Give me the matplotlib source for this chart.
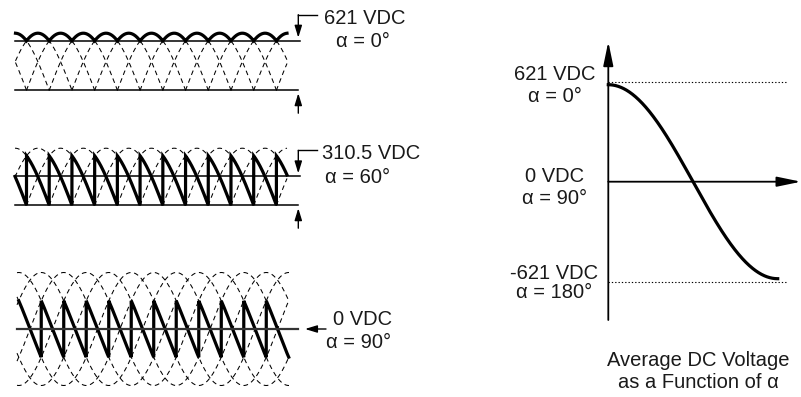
import matplotlib.pyplot as plt
import numpy as np

# values shown in the diagram
peak_vdc = 621
wave_alpha = [0, 60, 90]                      # firing angle of each waveform panel
wave_vdc_labels = ['621 VDC', '310.5 VDC', '0 VDC']
wave_alpha_labels = ['α = 0°', 'α = 60°', 'α = 90°']
curve_alpha = [0, 90, 180]                    # marked points on the right plot
curve_vdc_labels = ['621 VDC', '0 VDC', '-621 VDC']
curve_alpha_labels = ['α = 0°', 'α = 90°', 'α = 180°']
caption = ['Average DC Voltage', 'as a Function of α']

FONT = 'Liberation Sans'
FS = 14.5
TC = '#1a1a1a'

fig = plt.figure(figsize=(8.01, 3.97), dpi=100)
ax = fig.add_axes([0, 0, 1, 1])
ax.set_xlim(0, 801)
ax.set_ylim(397, 0)
ax.axis('off')

def arrow(x0, y0, x1, y1, hl=0.72, hw=0.22, lw=1.0):
    ax.annotate('', xy=(x1, y1), xytext=(x0, y0),
                arrowprops=dict(arrowstyle='-|>,head_length=%s,head_width=%s' % (hl, hw),
                                lw=lw, color='black', mutation_scale=10,
                                shrinkA=0, shrinkB=0))

# panel layout: zero line y, amplitude px, x range, px per 60 deg, x where theta = ref
panels = [
    dict(zero=90.2, amp=57, x0=15.5, x1=287, bx0=15.5, bx1=287, px60=22.72, xref=26.5, tref=180, top=40.7, clip=True),
    dict(zero=205.2, amp=57, x0=15.0, x1=287, bx0=15.0, bx1=287, px60=22.72, xref=26.5, tref=180, top=176.4, clip=True),
    dict(zero=329.0, amp=56.5, x0=17.0, x1=289, bx0=18.75, bx1=288.7, px60=22.5, xref=41.25, tref=210, top=None, clip=False),
]

for i, p in enumerate(panels):
    x = np.linspace(p['x0'], p['x1'], 6000)
    theta = p['tref'] + (x - p['xref']) * 60.0 / p['px60']
    # the six line-to-line voltages, dashed
    for k in range(6):
        v = np.sin(np.radians(theta - 60 * k))
        if p['clip']:
            v = np.where(v >= -0.005, v, np.nan)
        ax.plot(x, p['zero'] - p['amp'] * v, color='black', lw=0.75,
                dashes=(4.5, 3.5))
    # rectifier output for this firing angle
    a = wave_alpha[i]
    xb = np.linspace(p['bx0'] + 0.01, p['bx1'], 6000)
    tb = p['tref'] + (xb - p['xref']) * 60.0 / p['px60']
    ph = np.mod(tb - 60 - a, 60) + 60 + a
    out = np.sin(np.radians(ph))
    ax.plot(xb, p['zero'] - p['amp'] * out, color='black', lw=2.3,
            solid_joinstyle='miter')

    if p['top'] is not None:
        ax.plot([15, 300], [p['top'], p['top']], color='black', lw=1.1)
        ax.plot([15, 298.3], [p['zero'], p['zero']], color='black', lw=1.1)
        ely = p['top'] - 26
        ax.plot([316.5, 298.3], [ely, ely], color='black', lw=1.0)
        arrow(298.3, ely, 298.3, p['top'] - 3)
        arrow(298.3, p['zero'] + 23, 298.3, p['zero'] + 3)
        ax.text(365 if i == 0 else 371.5, p['top'] - 17, wave_vdc_labels[i], color=TC,
                ha='center', va='baseline', fontsize=FS, family=FONT)
        ax.text(363 if i == 0 else 358, p['top'] + 6.5, wave_alpha_labels[i], color=TC,
                ha='center', va='baseline', fontsize=FS, family=FONT)
    else:
        ax.plot([16.7, 297.7], [p['zero'], p['zero']], color='#333333', lw=1.6)
        arrow(326, p['zero'], 305, p['zero'])
        ax.text(363, p['zero'] - 4, wave_vdc_labels[i], color=TC,
                ha='center', va='baseline', fontsize=FS, family=FONT)
        ax.text(359, p['zero'] + 19.5, wave_alpha_labels[i], color=TC,
                ha='center', va='baseline', fontsize=FS, family=FONT)

# right hand plot: average DC voltage against firing angle
ox, oy = 608.3, 181.7
xs = 169.4 / 180.0
ys = 97.0 / peak_vdc
arrow(ox, 320, ox, 41.7, hl=1.45, hw=0.3, lw=1.3)
arrow(ox, oy, 801, oy, hl=1.45, hw=0.3, lw=1.3)
for lev in (peak_vdc, -peak_vdc):
    yy = oy - lev * 100.0 / peak_vdc
    ax.plot([ox, 787], [yy, yy], color='black', lw=0.8, ls=(0, (1.2, 1.8)))

alpha = np.linspace(0, 180, 400)
vdc = peak_vdc * np.cos(np.radians(alpha))
ax.plot(ox + alpha * xs, oy - vdc * ys, color='black', lw=2.3)

label_y = [(80, 101.7), (181.7, 204), (279.3, 298.3)]
for j in range(3):
    ax.text(554.5, label_y[j][0], curve_vdc_labels[j], ha='center', va='baseline',
            fontsize=FS, family=FONT, color=TC)
    ax.text(554.5, label_y[j][1], curve_alpha_labels[j], ha='center', va='baseline',
            fontsize=FS, family=FONT, color=TC)

ax.text(698.5, 365.5, caption[0], ha='center', va='baseline', fontsize=FS, family=FONT, color=TC)
ax.text(698.5, 388.5, caption[1], ha='center', va='baseline', fontsize=FS, family=FONT, color=TC)

fig.savefig('out.png', dpi=100)
